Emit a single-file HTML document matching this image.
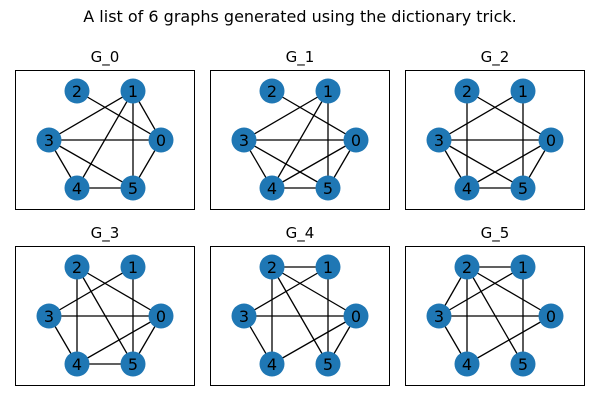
<!DOCTYPE html>
<html><head><style>body{margin:0;background:#fff}svg{display:block}</style></head><body>
<svg width="600" height="400" xmlns="http://www.w3.org/2000/svg" font-family="'DejaVu Sans','Liberation Sans',sans-serif">
<rect width="600" height="400" fill="#fff"/>
<text x="300" y="22" font-size="16" text-anchor="middle">A list of 6 graphs generated using the dictionary trick.</text>
<g id="p0" transform="translate(0,0)">
<text x="105" y="62" font-size="15" text-anchor="middle">G_0</text>
<rect x="15.5" y="70.5" width="179" height="139" fill="none" stroke="#000"/>
<g stroke="#000" stroke-width="1.3">
<line x1="77" y1="91" x2="161" y2="140"/><line x1="133" y1="91" x2="49" y2="140"/><line x1="133" y1="91" x2="77" y2="188"/><line x1="133" y1="91" x2="133" y2="188"/><line x1="133" y1="91" x2="161" y2="140"/><line x1="49" y1="140" x2="161" y2="140"/><line x1="49" y1="140" x2="77" y2="188"/><line x1="49" y1="140" x2="133" y2="188"/><line x1="161" y1="140" x2="133" y2="188"/><line x1="77" y1="188" x2="133" y2="188"/>
</g></g>
<g transform="translate(195,0)">
<text x="105" y="62" font-size="15" text-anchor="middle">G_1</text>
<rect x="15.5" y="70.5" width="179" height="139" fill="none" stroke="#000"/>
<g stroke="#000" stroke-width="1.3">
<line x1="77" y1="91" x2="161" y2="140"/><line x1="133" y1="91" x2="49" y2="140"/><line x1="133" y1="91" x2="77" y2="188"/><line x1="133" y1="91" x2="133" y2="188"/><line x1="49" y1="140" x2="161" y2="140"/><line x1="49" y1="140" x2="77" y2="188"/><line x1="49" y1="140" x2="133" y2="188"/><line x1="161" y1="140" x2="77" y2="188"/><line x1="161" y1="140" x2="133" y2="188"/><line x1="77" y1="188" x2="133" y2="188"/>
</g></g>
<g transform="translate(390,0)">
<text x="105" y="62" font-size="15" text-anchor="middle">G_2</text>
<rect x="15.5" y="70.5" width="179" height="139" fill="none" stroke="#000"/>
<g stroke="#000" stroke-width="1.3">
<line x1="77" y1="91" x2="77" y2="188"/><line x1="77" y1="91" x2="161" y2="140"/><line x1="133" y1="91" x2="49" y2="140"/><line x1="133" y1="91" x2="133" y2="188"/><line x1="49" y1="140" x2="161" y2="140"/><line x1="49" y1="140" x2="77" y2="188"/><line x1="49" y1="140" x2="133" y2="188"/><line x1="161" y1="140" x2="77" y2="188"/><line x1="161" y1="140" x2="133" y2="188"/><line x1="77" y1="188" x2="133" y2="188"/>
</g></g>
<g transform="translate(0,176)">
<text x="105" y="62" font-size="15" text-anchor="middle">G_3</text>
<rect x="15.5" y="70.5" width="179" height="139" fill="none" stroke="#000"/>
<g stroke="#000" stroke-width="1.3">
<line x1="77" y1="91" x2="77" y2="188"/><line x1="77" y1="91" x2="133" y2="188"/><line x1="77" y1="91" x2="161" y2="140"/><line x1="133" y1="91" x2="49" y2="140"/><line x1="133" y1="91" x2="133" y2="188"/><line x1="49" y1="140" x2="161" y2="140"/><line x1="49" y1="140" x2="77" y2="188"/><line x1="161" y1="140" x2="77" y2="188"/><line x1="161" y1="140" x2="133" y2="188"/><line x1="77" y1="188" x2="133" y2="188"/>
</g></g>
<g transform="translate(195,176)">
<text x="105" y="62" font-size="15" text-anchor="middle">G_4</text>
<rect x="15.5" y="70.5" width="179" height="139" fill="none" stroke="#000"/>
<g stroke="#000" stroke-width="1.3">
<line x1="77" y1="91" x2="133" y2="91"/><line x1="77" y1="91" x2="77" y2="188"/><line x1="77" y1="91" x2="133" y2="188"/><line x1="77" y1="91" x2="161" y2="140"/><line x1="133" y1="91" x2="49" y2="140"/><line x1="133" y1="91" x2="133" y2="188"/><line x1="49" y1="140" x2="161" y2="140"/><line x1="49" y1="140" x2="77" y2="188"/><line x1="161" y1="140" x2="77" y2="188"/><line x1="161" y1="140" x2="133" y2="188"/>
</g></g>
<g transform="translate(390,176)">
<text x="105" y="62" font-size="15" text-anchor="middle">G_5</text>
<rect x="15.5" y="70.5" width="179" height="139" fill="none" stroke="#000"/>
<g stroke="#000" stroke-width="1.3">
<line x1="77" y1="91" x2="133" y2="91"/><line x1="77" y1="91" x2="49" y2="140"/><line x1="77" y1="91" x2="77" y2="188"/><line x1="77" y1="91" x2="133" y2="188"/><line x1="77" y1="91" x2="161" y2="140"/><line x1="133" y1="91" x2="49" y2="140"/><line x1="133" y1="91" x2="133" y2="188"/><line x1="49" y1="140" x2="161" y2="140"/><line x1="49" y1="140" x2="77" y2="188"/><line x1="161" y1="140" x2="77" y2="188"/>
</g></g>
<g fill="#1f77b4">
<circle cx="77" cy="91" r="12.5"/><circle cx="133" cy="91" r="12.5"/><circle cx="49" cy="140" r="12.5"/><circle cx="161" cy="140" r="12.5"/><circle cx="77" cy="188" r="12.5"/><circle cx="133" cy="188" r="12.5"/>
<circle cx="272" cy="91" r="12.5"/><circle cx="328" cy="91" r="12.5"/><circle cx="244" cy="140" r="12.5"/><circle cx="356" cy="140" r="12.5"/><circle cx="272" cy="188" r="12.5"/><circle cx="328" cy="188" r="12.5"/>
<circle cx="467" cy="91" r="12.5"/><circle cx="523" cy="91" r="12.5"/><circle cx="439" cy="140" r="12.5"/><circle cx="551" cy="140" r="12.5"/><circle cx="467" cy="188" r="12.5"/><circle cx="523" cy="188" r="12.5"/>
<circle cx="77" cy="267" r="12.5"/><circle cx="133" cy="267" r="12.5"/><circle cx="49" cy="316" r="12.5"/><circle cx="161" cy="316" r="12.5"/><circle cx="77" cy="364" r="12.5"/><circle cx="133" cy="364" r="12.5"/>
<circle cx="272" cy="267" r="12.5"/><circle cx="328" cy="267" r="12.5"/><circle cx="244" cy="316" r="12.5"/><circle cx="356" cy="316" r="12.5"/><circle cx="272" cy="364" r="12.5"/><circle cx="328" cy="364" r="12.5"/>
<circle cx="467" cy="267" r="12.5"/><circle cx="523" cy="267" r="12.5"/><circle cx="439" cy="316" r="12.5"/><circle cx="551" cy="316" r="12.5"/><circle cx="467" cy="364" r="12.5"/><circle cx="523" cy="364" r="12.5"/>
</g>
<g font-size="16" text-anchor="middle" fill="#000">
<text x="77" y="97">2</text><text x="133" y="97">1</text><text x="49" y="146">3</text><text x="161" y="146">0</text><text x="77" y="194">4</text><text x="133" y="194">5</text>
<text x="272" y="97">2</text><text x="328" y="97">1</text><text x="244" y="146">3</text><text x="356" y="146">0</text><text x="272" y="194">4</text><text x="328" y="194">5</text>
<text x="467" y="97">2</text><text x="523" y="97">1</text><text x="439" y="146">3</text><text x="551" y="146">0</text><text x="467" y="194">4</text><text x="523" y="194">5</text>
<text x="77" y="273">2</text><text x="133" y="273">1</text><text x="49" y="322">3</text><text x="161" y="322">0</text><text x="77" y="370">4</text><text x="133" y="370">5</text>
<text x="272" y="273">2</text><text x="328" y="273">1</text><text x="244" y="322">3</text><text x="356" y="322">0</text><text x="272" y="370">4</text><text x="328" y="370">5</text>
<text x="467" y="273">2</text><text x="523" y="273">1</text><text x="439" y="322">3</text><text x="551" y="322">0</text><text x="467" y="370">4</text><text x="523" y="370">5</text>
</g>
</svg>
</body></html>
